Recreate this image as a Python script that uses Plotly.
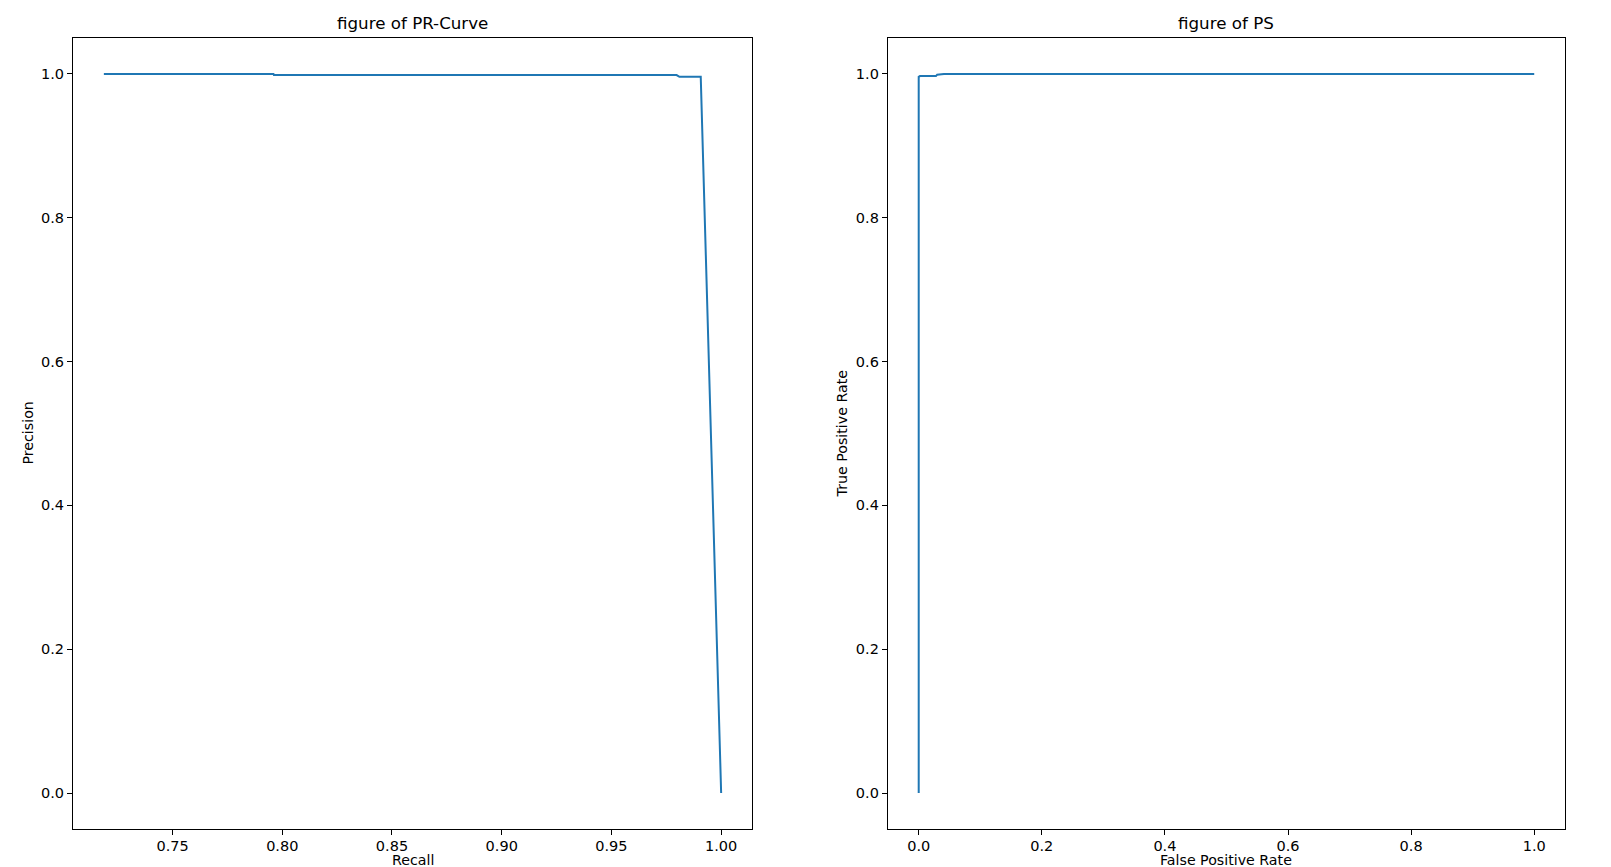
import plotly.graph_objects as go
from plotly.subplots import make_subplots

# PR curve data
recall = [0.7187, 0.7960, 0.7962, 0.9797, 0.9810, 0.9907, 1.0]
precision = [1.0, 1.0, 0.9985, 0.9985, 0.9960, 0.9960, 0.0]

# ROC ("PS") curve data
fpr = [0.0, 0.0, 0.002, 0.028, 0.030, 0.041, 1.0]
tpr = [0.0, 0.996, 0.997, 0.997, 0.999, 1.0, 1.0]

titles = ["figure of PR-Curve", "figure of PS"]
x_titles = ["Recall", "False Positive Rate"]
y_titles = ["Precision", "True Positive Rate"]

W, H = 1611, 867
ML, MR, MT, MB = 73, 46, 38, 38
FONT = "DejaVu Sans"
BLUE = "#1f77b4"

fig = make_subplots(rows=1, cols=2)
fig.add_trace(go.Scatter(x=recall, y=precision, mode="lines",
                         line=dict(color=BLUE, width=2)), row=1, col=1)
fig.add_trace(go.Scatter(x=fpr, y=tpr, mode="lines",
                         line=dict(color=BLUE, width=2)), row=1, col=2)

def rng(vals):
    lo, hi = min(vals), max(vals)
    m = (hi - lo) * 0.05
    return [lo - m, hi + m]

axis_common = dict(showline=True, linecolor="black", linewidth=1.2, mirror=True,
                   ticks="outside", ticklen=5, tickwidth=1, tickcolor="black",
                   showgrid=False, zeroline=False, automargin=False,
                   tickfont=dict(family=FONT, size=14.5, color="black"))

fig.update_xaxes(**axis_common, ticklabelstandoff=-2)
fig.update_yaxes(**axis_common)
fig.update_xaxes(range=rng(recall), tickvals=[0.75, 0.80, 0.85, 0.90, 0.95, 1.00],
                 ticktext=["0.75", "0.80", "0.85", "0.90", "0.95", "1.00"], row=1, col=1)
fig.update_xaxes(range=rng(fpr), tickvals=[0, 0.2, 0.4, 0.6, 0.8, 1.0],
                 ticktext=["0.0", "0.2", "0.4", "0.6", "0.8", "1.0"], row=1, col=2)
yticks = [0, 0.2, 0.4, 0.6, 0.8, 1.0]
ytext = ["0.0", "0.2", "0.4", "0.6", "0.8", "1.0"]
fig.update_yaxes(range=rng(precision), tickvals=yticks, ticktext=ytext, row=1, col=1)
fig.update_yaxes(range=rng(tpr), tickvals=yticks, ticktext=ytext, row=1, col=2)

doms = [(0, 0.4551), (0.5462, 1.0)]
fig.update_layout(xaxis=dict(domain=list(doms[0])), xaxis2=dict(domain=list(doms[1])))

ann = []
for i, (a, b) in enumerate(doms):
    c = (a + b) / 2
    ann.append(dict(text=titles[i], x=c, y=1, xref="paper", yref="paper",
                    xanchor="center", yanchor="bottom", yshift=3, showarrow=False,
                    font=dict(family=FONT, size=16.7, color="black")))
    ann.append(dict(text=x_titles[i], x=c, y=0, xref="paper", yref="paper",
                    xanchor="center", yanchor="bottom", yshift=-41, showarrow=False,
                    font=dict(family=FONT, size=14.2, color="black")))
    ann.append(dict(text=y_titles[i], x=a, y=0.5, xref="paper", yref="paper",
                    xanchor="right", yanchor="middle", xshift=-36, textangle=-90,
                    showarrow=False, font=dict(family=FONT, size=14.2, color="black")))

fig.update_layout(width=W, height=H, margin=dict(l=ML, r=MR, t=MT, b=MB),
                  plot_bgcolor="white", paper_bgcolor="white", showlegend=False,
                  annotations=ann, font=dict(family=FONT))

fig.write_html("out.html", config={"displayModeBar": False},
               post_script="document.body.style.margin='0';document.body.style.overflow='hidden';")
